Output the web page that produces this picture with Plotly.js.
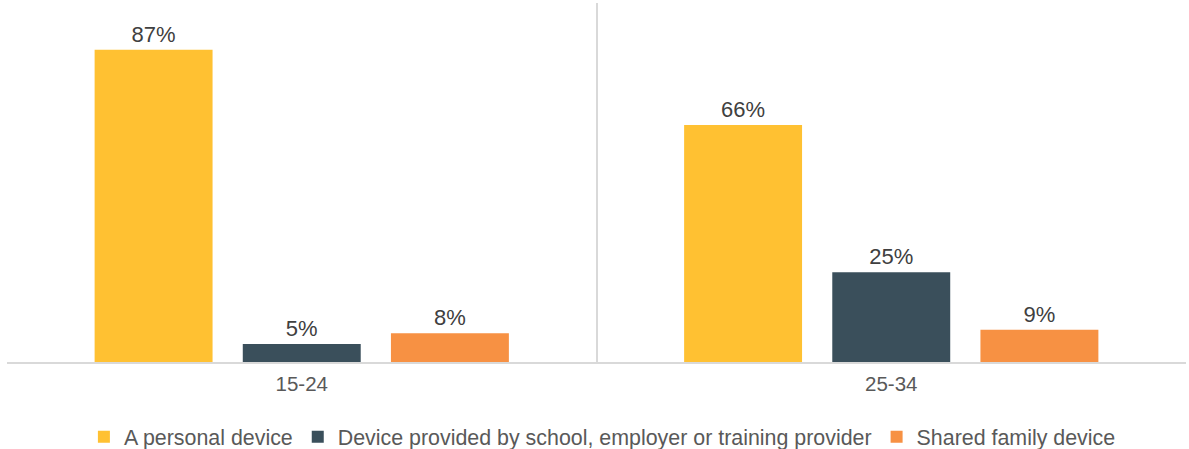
<!DOCTYPE html>
<html>
<head>
<meta charset="utf-8">
<script src="https://cdn.plot.ly/plotly-3.0.1.min.js"></script>
<style>html,body{margin:0;padding:0;background:#fff;}#chart{width:1189px;height:449px;}</style>
</head>
<body>
<div id="chart"></div>
<script>
const categories = ["15-24", "25-34"];
const seriesNames = ["A personal device", "Device provided by school, employer or training provider", "Shared family device"];
const personal = [87, 66];
const provided = [5, 25];
const shared = [8, 9];
const colors = ["#FFC132", "#3A4F5B", "#F79143"];

const seriesValues = [personal, provided, shared];
const traces = seriesValues.map((vals, i) => ({
  type: "bar",
  name: seriesNames[i],
  x: categories,
  y: vals,
  marker: {color: colors[i]},
  text: vals.map(v => v + "%"),
  textposition: "outside",
  cliponaxis: false,
  textfont: {family: "Liberation Sans, Arial, sans-serif", size: 22, color: "#404040"},
  hoverinfo: "skip"
}));

const layout = {
  width: 1189, height: 449,
  margin: {l: 7, r: 3, t: 3, b: 87, autoexpand: false},
  paper_bgcolor: "#fff", plot_bgcolor: "#fff",
  barmode: "group",
  bargap: 0.246,
  bargroupgap: 0.204,
  font: {family: "Liberation Sans, Arial, sans-serif", color: "#595959"},
  xaxis: {
    type: "category",
    tickson: "boundaries",
    showgrid: true, gridcolor: "#D9D9D9", gridwidth: 2,
    showline: true, linecolor: "#D9D9D9", linewidth: 2,
    ticks: "", ticklen: 0,
    ticklabelstandoff: 2,
    tickfont: {size: 20.5, color: "#595959"},
    zeroline: false
  },
  yaxis: {
    range: [0, 100],
    visible: false,
    showgrid: false, zeroline: false
  },
  showlegend: true,
  legend: {
    orientation: "h",
    x: 0.505, xanchor: "center",
    yref: "container",
    y: 0.027, yanchor: "middle",
    font: {size: 21.4, color: "#595959"},
    itemwidth: 30,
    tracegroupgap: 0
  }
};

Plotly.newPlot("chart", traces, layout, {staticPlot: true, displayModeBar: false});
</script>
</body>
</html>
